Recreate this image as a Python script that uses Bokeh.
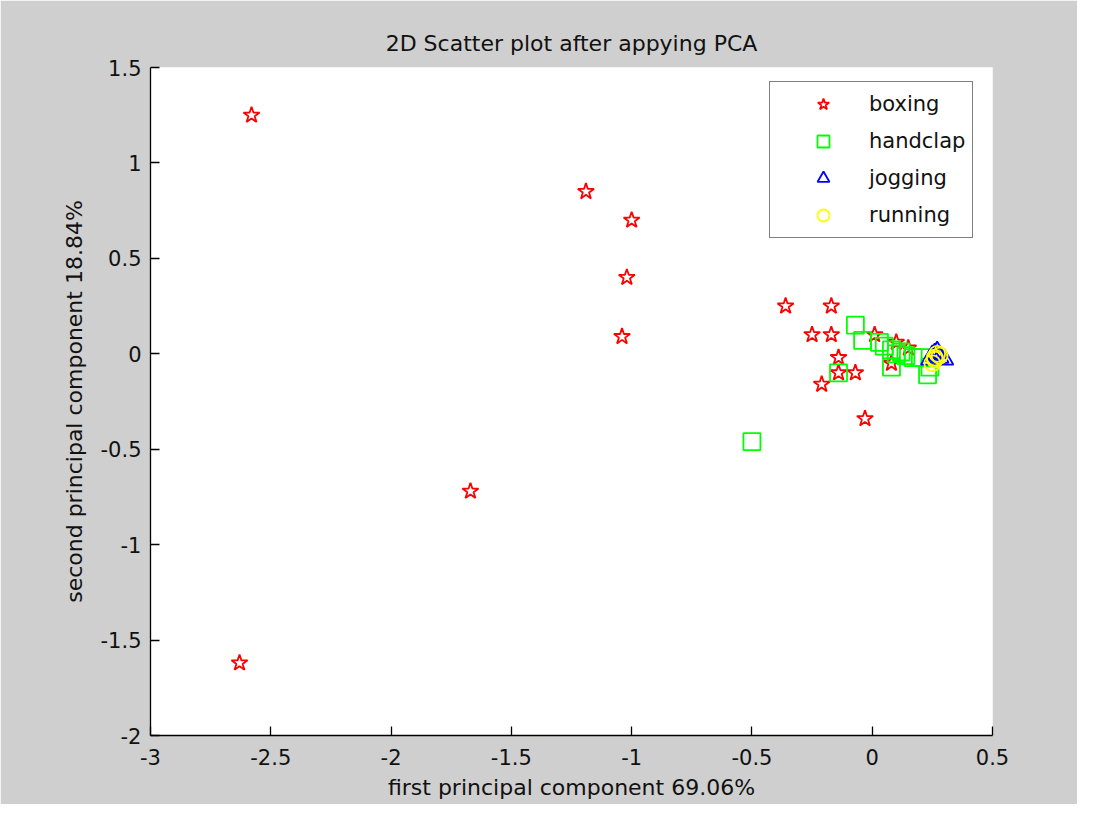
from bokeh.plotting import figure
from bokeh.models import Range1d, FixedTicker, CustomJSTickFormatter, Legend, LegendItem, Title
from bokeh.embed import file_html
from bokeh.resources import INLINE

# ---- data ----
boxing_x = [-2.58, -1.19, -1.00, -1.02, -1.04, -1.67, -2.63, -0.36, -0.17, -0.25, -0.17,
            -0.14, -0.14, -0.21, -0.07, -0.03, 0.01, 0.15, 0.08, 0.10]
boxing_y = [1.25, 0.85, 0.70, 0.40, 0.09, -0.72, -1.62, 0.25, 0.25, 0.10, 0.10,
            -0.02, -0.10, -0.16, -0.10, -0.34, 0.10, 0.03, -0.05, 0.06]

handclap_x = [-0.07, -0.04, -0.14, -0.50, 0.03, 0.05, 0.08, 0.08, 0.10, 0.14, 0.17,
              0.23, 0.24, 0.20, 0.12]
handclap_y = [0.15, 0.07, -0.10, -0.46, 0.06, 0.04, 0.02, -0.07, 0.00, -0.01, -0.02,
              -0.11, -0.07, -0.02, 0.01]

jogging_x = [0.24, 0.26, 0.27, 0.28, 0.30, 0.25]
jogging_y = [-0.03, 0.00, 0.01, -0.02, -0.03, -0.01]

running_x = [0.26, 0.27, 0.25, 0.26, 0.28]
running_y = [-0.02, 0.00, -0.05, -0.03, -0.01]

x_ticks = [-3, -2.5, -2, -1.5, -1, -0.5, 0, 0.5]
y_ticks = [-2, -1.5, -1, -0.5, 0, 0.5, 1, 1.5]

title_text = "2D Scatter plot after appying PCA"
x_label = "first principal component 69.06%"
y_label = "second principal component 18.84%"

FONT = "DejaVu Sans"
BG = "#CFCFCF"

p = figure(output_backend="svg", toolbar_location=None,
           frame_width=842, frame_height=668,
           x_range=Range1d(-3, 0.5), y_range=Range1d(-2, 1.5),
           min_border_left=150, min_border_top=67,
           min_border_right=85, min_border_bottom=69)
p.border_fill_color = BG
p.background_fill_color = "white"
p.outline_line_color = None
p.xgrid.visible = False
p.ygrid.visible = False

p.title.text = title_text
p.title.align = "center"
p.title.text_font = FONT
p.title.text_font_size = "22px"
p.title.text_font_style = "normal"
p.title.text_color = "#111111"

# small empty spacer between the title and the frame
spacer = Title(text=" ", text_font_size="4px", standoff=0)
p.above = [spacer] + [a for a in p.above if a is not spacer]

fmt = CustomJSTickFormatter(code="return tick.toString();")
for ax, ticks, lab in ((p.xaxis[0], x_ticks, x_label), (p.yaxis[0], y_ticks, y_label)):
    ax.ticker = FixedTicker(ticks=ticks)
    ax.formatter = fmt
    ax.major_tick_in = 9
    ax.major_tick_out = 0
    ax.minor_tick_line_color = None
    ax.axis_line_color = "black"
    ax.axis_line_width = 1.3
    ax.major_tick_line_color = "black"
    ax.major_tick_line_width = 1.3
    ax.major_label_text_font = FONT
    ax.major_label_text_font_size = "21px"
    ax.major_label_text_color = "#111111"
    ax.axis_label = lab
    ax.axis_label_text_font = FONT
    ax.axis_label_text_font_size = "22px"
    ax.axis_label_text_font_style = "normal"
    ax.axis_label_text_color = "#111111"

p.xaxis[0].major_label_standoff = 13
p.xaxis[0].axis_label_standoff = 7
p.yaxis[0].major_label_standoff = 9
p.yaxis[0].axis_label_standoff = 11

r1 = p.scatter(boxing_x, boxing_y, marker="star", size=17, fill_color=None,
               line_color="#FF0000", line_width=1.8)
r2 = p.scatter(handclap_x, handclap_y, marker="square", size=17, fill_color=None,
               line_color="#00FF00", line_width=1.8)
r3 = p.scatter(jogging_x, jogging_y, marker="triangle", size=18, fill_color=None,
               line_color="#0000FF", line_width=1.8)
r4 = p.scatter(running_x, running_y, marker="circle", size=16, fill_color=None,
               line_color="#FFFF00", line_width=1.8)

legend = Legend(items=[LegendItem(label="boxing", renderers=[r1]),
                       LegendItem(label="handclap", renderers=[r2]),
                       LegendItem(label="jogging", renderers=[r3]),
                       LegendItem(label="running", renderers=[r4])],
                location=(619, 497))
legend.margin = 0
legend.padding = 7
legend.spacing = 7
legend.glyph_width = 92
legend.glyph_height = 30
legend.label_height = 30
legend.label_standoff = 0
legend.label_text_font = FONT
legend.label_text_font_size = "21px"
legend.label_text_color = "#111111"
legend.border_line_color = "black"
legend.border_line_width = 1.5
legend.background_fill_color = "white"
legend.background_fill_alpha = 1.0
p.add_layout(legend, "center")

open("out.html", "w").write(file_html(p, INLINE))
